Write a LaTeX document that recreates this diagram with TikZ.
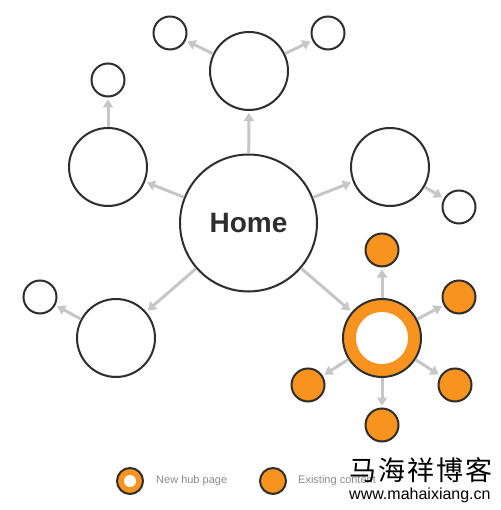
\documentclass[tikz,border=0pt]{standalone}
\usepackage{fontspec}
\setmainfont{Liberation Sans}
\newfontfamily\cjk{Noto Sans CJK SC}
\usetikzlibrary{arrows.meta}

\definecolor{edge}{HTML}{2E2E2E}
\definecolor{arrowgray}{HTML}{C6C6C6}
\definecolor{shade}{HTML}{E2E2E2}
\definecolor{hubor}{HTML}{F7931E}
\definecolor{hubordark}{HTML}{E8730C}
\definecolor{legendtext}{HTML}{8A8A8A}

\begin{document}
\begin{tikzpicture}[
        x = 1pt, y = -1pt,
        page/.style = {
            draw = edge,
            circle,
            line width = 2pt,
            inner sep = 0pt,
            minimum size = #1,
            fill = shade,
            path picture = {\fill[white] ([yshift=1.5pt]path picture bounding box.center) circle[radius=#1/2];}
        },
        page/.default = 78pt,
        content/.style = {
            page = #1,
            fill = hubordark,
            path picture = {\fill[hubor] ([yshift=1.5pt]path picture bounding box.center) circle[radius=#1/2];}
        },
        content/.default = 33pt,
        hub/.style 2 args = {
            draw = edge,
            circle,
            line width = 2pt,
            inner sep = 0pt,
            minimum size = #1,
            fill = hubor,
            path picture = {\fill[white] (path picture bounding box.center) circle[radius=#2];}
        },
        link/.style = {
            -{Triangle[length=8pt, width=10pt]},
            line width = 3pt,
            draw = arrowgray,
            shorten > = 2pt
        },
        legend/.style = {
            font = \fontsize{11pt}{13pt}\selectfont,
            text = legendtext,
            anchor = west,
            inner sep = 0pt
        }
        ]
        \useasboundingbox (0,0) rectangle (500,510);
%
        \node[page=137pt, font=\fontsize{28pt}{30pt}\selectfont\bfseries, text=edge] (home) at (248.5,223) {Home};
%
        \node[page] (top) at (249,71) {};
        \node[page=33pt] (topl) at (170,33) {};
        \node[page=33pt] (topr) at (328,33) {};
%
        \node[page] (left) at (108,167) {};
        \node[page=33pt] (leftt) at (108,80) {};
%
        \node[page] (right) at (390,167) {};
        \node[page=33pt] (rightr) at (459,207) {};
%
        \node[page] (low) at (116,338) {};
        \node[page=33pt] (lowl) at (40,297) {};
%
        \node[hub={78pt}{26pt}] (hub) at (382,338) {};
        \node[content] (c1) at (382,250) {};
        \node[content] (c2) at (459,297) {};
        \node[content] (c3) at (455,385) {};
        \node[content] (c4) at (382,425) {};
        \node[content] (c5) at (308,385) {};
%
        \draw[link] (home) -- (top);
        \draw[link] (home) -- (left);
        \draw[link] (home) -- (right);
        \draw[link] (home) -- (low);
        \draw[link] (home) -- (hub);
%
        \draw[link] (top) -- (topl);
        \draw[link] (top) -- (topr);
        \draw[link] (left) -- (leftt);
        \draw[link] (right) -- (rightr);
        \draw[link] (low) -- (lowl);
%
        \draw[link] (hub) -- (c1);
        \draw[link] (hub) -- (c2);
        \draw[link] (hub) -- (c3);
        \draw[link] (hub) -- (c4);
        \draw[link] (hub) -- (c5);
%
% legend
        \node[hub={26pt}{6pt}] (keyhub) at (130,481) {};
        \node[legend] (keyhubtext) at (156,481) {New hub page};
        \node[content=26pt] (keyold) at (273,481) {};
        \node[legend] (keyoldtext) at (298,481) {Existing content};
%
        \node[font=\cjk\fontsize{27pt}{29pt}\selectfont, anchor=west, inner sep=0pt] (mark) at (349,470) {马\hspace{2pt}海\hspace{2pt}祥\hspace{2pt}博\hspace{2pt}客};
        \node[font=\fontsize{16pt}{18pt}\selectfont, anchor=west, inner sep=0pt] (site) at (349,495) {www.mahaixiang.cn};
    \end{tikzpicture}
\end{document}
